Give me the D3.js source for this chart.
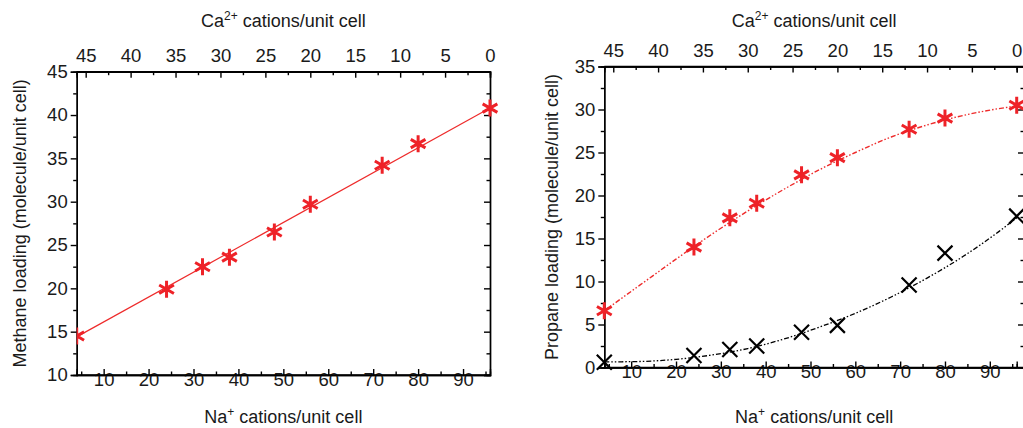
<!DOCTYPE html>
<html><head><meta charset="utf-8">
<script src="https://cdn.jsdelivr.net/npm/d3@7"></script>
<style>
body{margin:0;background:#fff;}
svg{display:block;font-family:"Liberation Sans",Arial,sans-serif;}
.axis text{font-size:18.5px;fill:#1a1a1a;}
.axis path,.axis line{stroke:#000;stroke-width:1.4;}
.title{font-size:18px;fill:#1a1a1a;}
</style></head><body>
<script>
// ---- data ----
const naCations = [4, 24, 32, 38, 48, 56, 72, 80, 96];
const methaneLoading = [14.5, 19.9, 22.5, 23.6, 26.5, 29.7, 34.2, 36.7, 40.8];
const methaneFitNa = [4, 96];
const methaneFit = [14.4, 40.8];
const propaneRed = [6.6, 14.0, 17.4, 19.1, 22.4, 24.4, 27.7, 29.0, 30.5];
const propaneBlack = [0.6, 1.4, 2.1, 2.5, 4.1, 4.9, 9.6, 13.3, 17.6];
const fitNa = [4, 12, 20, 28, 36, 44, 52, 60, 68, 76, 84, 92, 96];
const propaneRedFit = [6.6, 9.6, 12.6, 15.5, 18.2, 20.7, 23.0, 25.0, 26.8, 28.2, 29.3, 30.1, 30.4];
const propaneBlackFit = [0.65, 0.7, 0.95, 1.45, 2.2, 3.3, 4.7, 6.3, 8.2, 10.4, 12.9, 15.8, 17.4];
const naTicks = [10, 20, 30, 40, 50, 60, 70, 80, 90];
const naMinor = [5, 15, 25, 35, 45, 55, 65, 75, 85, 95];
const caTicks = [45, 40, 35, 30, 25, 20, 15, 10, 5, 0];
const caMinor = [42.5, 37.5, 32.5, 27.5, 22.5, 17.5, 12.5, 7.5, 2.5];
const methaneTicks = [10, 15, 20, 25, 30, 35, 40, 45];
const methaneMinor = [12.5, 17.5, 22.5, 27.5, 32.5, 37.5, 42.5];
const propaneTicks = [0, 5, 10, 15, 20, 25, 30, 35];
const propaneMinor = [2.5, 7.5, 12.5, 17.5, 22.5, 27.5, 32.5];

const W = 1023, H = 428;
const svg = d3.select("body").append("svg").attr("width", W).attr("height", H);

function asterisk(r){
  let p = "";
  [90, 30, 150].forEach(a => {
    const t = a * Math.PI / 180, dx = r * Math.cos(t), dy = r * Math.sin(t);
    p += `M${-dx},${dy}L${dx},${-dy}`;
  });
  return p;
}
function cross(r){ return `M${-r},${-r}L${r},${r}M${-r},${r}L${r},${-r}`; }

function panel(cfg){
  const g = svg.append("g");
  const x = d3.scaleLinear().domain([4, 96]).range([cfg.x0, cfg.x96]);
  const ca = d3.scaleLinear().domain([46, 0]).range([cfg.x0, cfg.x96]);
  const y = d3.scaleLinear().domain(cfg.yDomain).range([cfg.yB, cfg.yT]);
  const xR = cfg.xRight;
  const cid = "clip" + cfg.id;
  g.append("clipPath").attr("id", cid).append("rect")
    .attr("x", cfg.x0).attr("y", cfg.yT - 20).attr("width", xR - cfg.x0 + 30).attr("height", cfg.yB - cfg.yT + 40);

  const mk = (gen, pos, ticks, size, labels) => {
    const a = gen.tickValues(ticks).tickSizeOuter(0).tickSize(size);
    if (!labels) a.tickFormat("");
    return g.append("g").attr("class", "axis").attr("transform", pos).call(a);
  };
  mk(d3.axisBottom(x), `translate(0,${cfg.yB})`, naMinor, -3.5, false);
  mk(d3.axisBottom(x), `translate(0,${cfg.yB})`, naTicks, -6, true).call(s => s.selectAll("text").attr("dy", "0.1em").attr("y", 9));
  mk(d3.axisTop(ca), `translate(0,${cfg.yT})`, caMinor, -3.5, false);
  mk(d3.axisTop(ca), `translate(0,${cfg.yT})`, caTicks, -6, true).call(s => s.selectAll("text").attr("y", -10).attr("dy", 0));
  mk(d3.axisLeft(y), `translate(${cfg.x0},0)`, cfg.minor, 3.5, false);
  mk(d3.axisLeft(y), `translate(${cfg.x0},0)`, cfg.ticks, 6, true).call(s => s.selectAll("text").attr("x", -9));
  mk(d3.axisRight(y), `translate(${xR},0)`, cfg.minor, -3.5, false);
  mk(d3.axisRight(y), `translate(${xR},0)`, cfg.ticks, -6, false);
  g.append("line").attr("x1", cfg.x0).attr("x2", xR).attr("y1", cfg.yT).attr("y2", cfg.yT).attr("stroke", "#000").attr("stroke-width", 1.4);
  g.append("line").attr("x1", cfg.x0).attr("x2", xR).attr("y1", cfg.yB).attr("y2", cfg.yB).attr("stroke", "#000").attr("stroke-width", 1.4);

  const cx = (cfg.x0 + xR) / 2;
  const tt = g.append("text").attr("class", "title").attr("x", cx).attr("y", 27).attr("text-anchor", "middle");
  tt.append("tspan").text("Ca");
  tt.append("tspan").text("2+").attr("font-size", "12px").attr("dy", "-7");
  tt.append("tspan").text(" cations/unit cell").attr("dy", "7");
  const tb = g.append("text").attr("class", "title").attr("x", cx).attr("y", 423).attr("text-anchor", "middle");
  tb.append("tspan").text("Na");
  tb.append("tspan").text("+").attr("font-size", "12px").attr("dy", "-7");
  tb.append("tspan").text(" cations/unit cell").attr("dy", "7");
  g.append("text").attr("class", "title").attr("text-anchor", "middle")
    .attr("transform", `translate(${cfg.ytX},${(cfg.yT + cfg.yB) / 2}) rotate(-90)`)
    .text(cfg.yTitle);

  return {g, x, y, cid};
}

// ---- left panel: methane ----
const L = panel({id: "L", x0: 76.7, x96: 490, xRight: 490, yT: 71.7, yB: 375, yDomain: [10, 45],
  ticks: methaneTicks, minor: methaneMinor, ytX: 26, yTitle: "Methane loading (molecule/unit cell)"});
const lg = L.g.append("g").attr("clip-path", `url(#${L.cid})`);
lg.append("path").datum(methaneFitNa.map((n, i) => [n, methaneFit[i]]))
  .attr("d", d3.line().x(d => L.x(d[0])).y(d => L.y(d[1])))
  .attr("fill", "none").attr("stroke", "#ee2b2b").attr("stroke-width", 1.2);
lg.selectAll(".m").data(naCations.map((n, i) => [n, methaneLoading[i]])).join("path")
  .attr("transform", d => `translate(${L.x(d[0])},${L.y(d[1])})`)
  .attr("d", asterisk(8.5)).attr("stroke", "#ee2228").attr("stroke-width", 3).attr("fill", "none");

// ---- right panel: propane ----
const R = panel({id: "R", x0: 604.3, x96: 1016.7, xRight: 1024, yT: 66.5, yB: 367.5, yDomain: [0, 35],
  ticks: propaneTicks, minor: propaneMinor, ytX: 558, yTitle: "Propane loading (molecule/unit cell)"});
const rg = R.g.append("g");
const curve = d3.line().x(d => R.x(d[0])).y(d => R.y(d[1])).curve(d3.curveMonotoneX);
rg.append("path").datum(fitNa.map((n, i) => [n, propaneRedFit[i]])).attr("d", curve)
  .attr("fill", "none").attr("stroke", "#ee2b2b").attr("stroke-width", 1.4).attr("stroke-dasharray", "5,2,1.5,2,1.5,2");
rg.append("path").datum(fitNa.map((n, i) => [n, propaneBlackFit[i]])).attr("d", curve)
  .attr("fill", "none").attr("stroke", "#000").attr("stroke-width", 1.3).attr("stroke-dasharray", "5,2,1.5,2,1.5,2");
rg.selectAll(".r").data(naCations.map((n, i) => [n, propaneRed[i]])).join("path")
  .attr("transform", d => `translate(${R.x(d[0])},${R.y(d[1])})`)
  .attr("d", asterisk(8.5)).attr("stroke", "#ee2228").attr("stroke-width", 3).attr("fill", "none");
rg.selectAll(".b").data(naCations.map((n, i) => [n, propaneBlack[i]])).join("path")
  .attr("transform", d => `translate(${R.x(d[0])},${R.y(d[1])})`)
  .attr("d", cross(7.5)).attr("stroke", "#000").attr("stroke-width", 2.2).attr("fill", "none");
</script>
</body></html>
